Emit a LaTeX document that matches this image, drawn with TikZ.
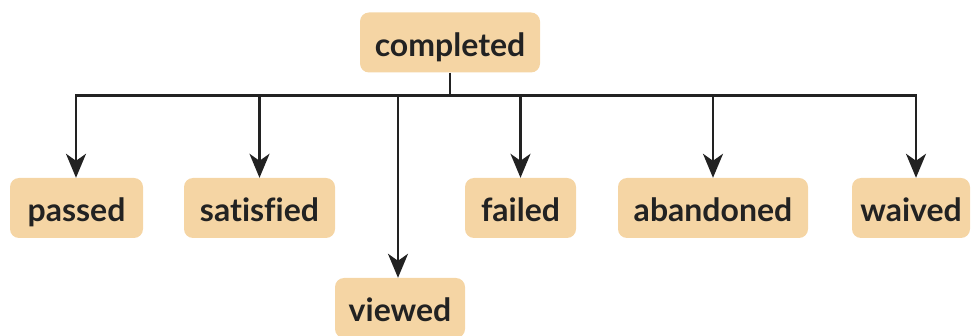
\documentclass[tikz,border=0pt]{standalone}
\usepackage{fontspec}
\setmainfont{Lato}[Ligatures=NoCommon]
\usetikzlibrary{arrows.meta}
\definecolor{boxfill}{HTML}{F5D5A4}
\definecolor{ink}{HTML}{222222}
\begin{document}
\begin{tikzpicture}[x=1pt,y=1pt,
  state/.style={fill=boxfill, draw=none, rounded corners=9pt, minimum height=60pt,
    inner sep=0pt, text height=30pt, text depth=2pt,
    font=\fontsize{32}{38}\selectfont\bfseries, text=ink},
  conn/.style={draw=ink, line width=2.4pt},
  arr/.style={conn, -{Stealth[length=24pt,width=20pt,inset=7pt]}}]
\useasboundingbox (0,0) rectangle (971,-336);
\node[state, minimum width=180pt] (completed) at (450,-42.5) {completed};
\node[state, minimum width=133pt] (passed) at (76.5,-208) {passed};
\node[state, minimum width=151pt] (satisfied) at (259.5,-208) {satisfied};
\node[state, minimum width=130pt] (viewed) at (400,-308) {viewed};
\node[state, minimum width=111pt] (failed) at (520.5,-208) {failed};
\node[state, minimum width=190pt] (abandoned) at (713,-208) {abandoned};
\node[state, minimum width=118pt] (waived) at (911,-208) {waived};
\coordinate (hub) at (450,-95.5);
\draw[conn] (completed.south) -- (hub);
\draw[arr] (hub) -| ([xshift=-0.5pt]passed.north);
\draw[arr] (hub) -| ([xshift=5pt]waived.north);
\draw[arr] (hub -| satisfied.north) -- (satisfied.north);
\draw[arr] ([xshift=-2pt]hub -| viewed.north) -- ([xshift=-2pt]viewed.north);
\draw[arr] (hub -| failed.north) -- (failed.north);
\draw[arr] (hub -| abandoned.north) -- (abandoned.north);
\end{tikzpicture}
\end{document}
